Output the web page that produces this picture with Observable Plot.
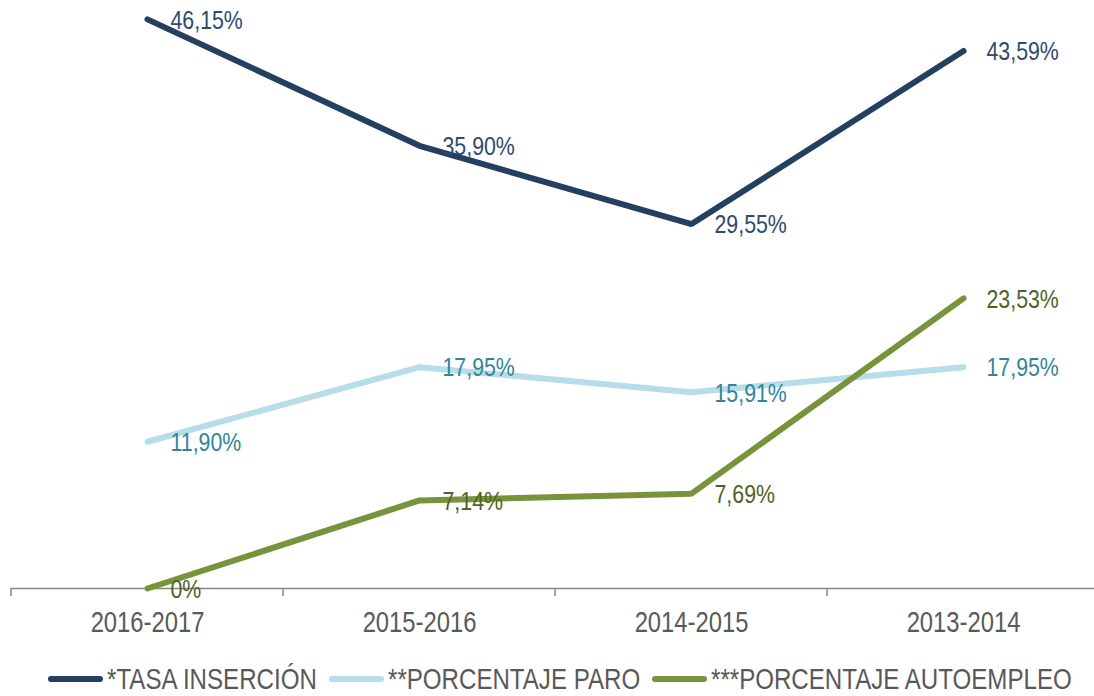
<!DOCTYPE html>
<html>
<head>
<meta charset="utf-8">
<script src="https://cdn.jsdelivr.net/npm/d3@7"></script>
<script src="https://cdn.jsdelivr.net/npm/@observablehq/plot@0.6"></script>
<style>
  html, body { margin: 0; padding: 0; background: #fff; }
  #chart { width: 1094px; height: 650px; }
  .legend { display: flex; justify-content: flex-start; align-items: center; height: 58px; width: 1094px;
    font-family: "Liberation Sans", Arial, sans-serif; font-size: 29.4px; color: #595959; white-space: nowrap; }
  .item { display: flex; align-items: center; margin-right: 12px; }
  .sw { display: inline-block; width: 55px; height: 6px; border-radius: 3px; margin-right: 4px; flex: none; }
  .lt { display: inline-block; transform: scaleX(0.82); transform-origin: left center; }
</style>
</head>
<body>
<div id="chart"></div>
<script>
const categories = ["2016-2017", "2015-2016", "2014-2015", "2013-2014"];
const tasaInsercion = [46.15, 35.90, 29.55, 43.59];
const porcentajeParo = [11.90, 17.95, 15.91, 17.95];
const porcentajeAutoempleo = [0, 7.14, 7.69, 23.53];
const seriesNames = ["*TASA INSERCIÓN", "**PORCENTAJE PARO", "***PORCENTAJE AUTOEMPLEO"];
const lineColors = ["#243F60", "#B7DDE8", "#77933C"];
const labelColors = ["#2E4A6E", "#31859C", "#4F6228"];

const seriesValues = [tasaInsercion, porcentajeParo, porcentajeAutoempleo];
const data = [];
seriesValues.forEach((vals, s) => vals.forEach((v, i) => data.push({series: seriesNames[s], cat: categories[i], value: v})));

const fmt = v => v === 0 ? "0%" : v.toFixed(2).replace(".", ",") + "%";
const font = '"Liberation Sans", Arial, sans-serif';
const narrow = 0.82;

const boundaryTicks = (index, scales) => {
  const g = d3.create("svg:g").attr("stroke", "#868686").attr("stroke-width", 1.5);
  const y0 = scales.y(0);
  for (const c of categories) {
    const x = scales.x(c);
    g.append("line").attr("x1", x).attr("x2", x).attr("y1", y0).attr("y2", y0 + 8);
  }
  return g.node();
};

const marks = [
  Plot.ruleY([0], {stroke: "#868686", strokeWidth: 1.5}),
  boundaryTicks,
  Plot.axisX({tickSize: 0, tickPadding: 23, fontSize: 29, fill: "#595959", fontFamily: font, textStroke: "none", label: null})
];
seriesNames.forEach((name, s) => {
  marks.push(Plot.line(data.filter(d => d.series === name), {
    x: "cat", y: "value", stroke: lineColors[s], strokeWidth: 6, strokeLinecap: "round", strokeLinejoin: "miter"
  }));
});
seriesNames.forEach((name, s) => {
  marks.push(Plot.text(data.filter(d => d.series === name), {
    x: "cat", y: "value", text: d => fmt(d.value), fill: labelColors[s],
    textAnchor: "start", dx: 23, dy: 1, fontSize: 26, fontFamily: font
  }));
});

const chart = Plot.plot({
  width: 1094, height: 650,
  marginTop: 0, marginLeft: 11, marginRight: 0, marginBottom: 62,
  x: {type: "band", domain: categories, range: [11, 1099], padding: 0, axis: null},
  y: {domain: [0, 50], range: [588, -28.6], axis: null},
  style: {fontFamily: font, background: "white", overflow: "visible"},
  marks
});
document.getElementById("chart").appendChild(chart);

// narrow the glyphs horizontally (Arial Narrow look)
chart.querySelectorAll("text").forEach(t => {
  const len = t.getComputedTextLength();
  if (len > 0) {
    t.setAttribute("textLength", (len * narrow).toFixed(2));
    t.setAttribute("lengthAdjust", "spacingAndGlyphs");
  }
});

const legend = document.createElement("div");
legend.className = "legend";
legend.style.paddingLeft = "48px";
document.body.appendChild(legend);
seriesNames.forEach((name, s) => {
  const item = document.createElement("div");
  item.className = "item";
  const sw = document.createElement("span");
  sw.className = "sw";
  sw.style.background = lineColors[s];
  const t = document.createElement("span");
  t.className = "lt";
  t.textContent = name;
  item.appendChild(sw);
  item.appendChild(t);
  legend.appendChild(item);
  t.style.marginRight = (-(1 - narrow) * t.offsetWidth) + "px";
});
</script>
</body>
</html>
